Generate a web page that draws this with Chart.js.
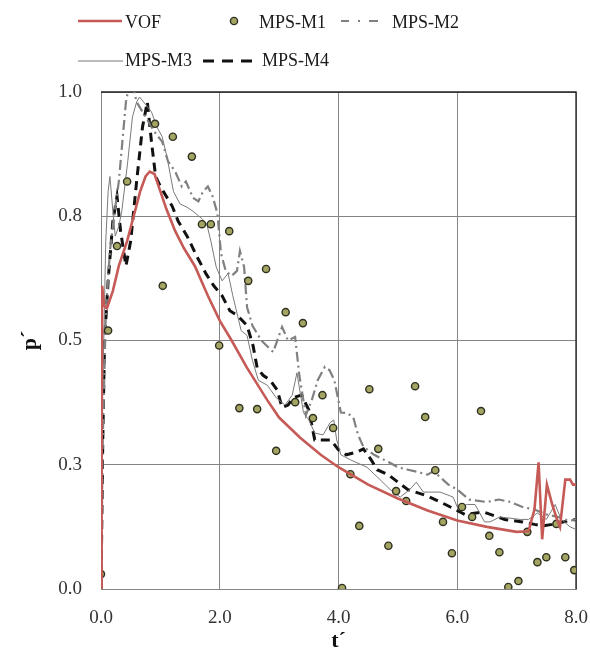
<!DOCTYPE html>
<html><head><meta charset="utf-8">
<script src="https://cdn.jsdelivr.net/npm/chart.js@4.4.1/dist/chart.umd.min.js"></script>
<style>html,body{margin:0;padding:0;background:#fff;}#wrap{width:590px;height:655px;position:relative;}</style>
</head><body><div id="wrap"><canvas id="c" width="590" height="655"></canvas></div>
<script>
// ---- data ----
const xTickValues = [0, 2, 4, 6, 8];
const xTickLabels = ['0.0', '2.0', '4.0', '6.0', '8.0'];
const yTickValues = [0, 0.25, 0.5, 0.75, 1.0];
const yTickLabels = ['0.0', '0.3', '0.5', '0.8', '1.0'];

const vofT = [0,0.01,0.02,0.05,0.1,0.2,0.3,0.44,0.55,0.66,0.75,0.82,0.9,1.0,1.1,1.25,1.4,1.58,1.8,2.0,2.2,2.46,2.8,3.0,3.35,3.7,4.0,4.5,5.0,5.5,6.0,6.5,7.0,7.2,7.3,7.37,7.43,7.51,7.6,7.68,7.73,7.82,7.9,7.95,8.0];
const vofP = [0,0.35,0.61,0.57,0.565,0.6,0.65,0.70,0.75,0.80,0.83,0.84,0.835,0.80,0.765,0.72,0.685,0.65,0.59,0.54,0.50,0.445,0.38,0.345,0.305,0.27,0.245,0.21,0.182,0.158,0.138,0.125,0.115,0.116,0.16,0.255,0.10,0.21,0.17,0.14,0.125,0.22,0.22,0.21,0.21];

const m1T = [0.0,0.12,0.27,0.44,0.91,1.04,1.21,1.53,1.70,1.85,1.99,2.16,2.33,2.48,2.63,2.78,2.95,3.11,3.27,3.40,3.57,3.73,3.91,4.06,4.20,4.35,4.52,4.67,4.84,4.97,5.14,5.29,5.46,5.63,5.76,5.91,6.08,6.25,6.40,6.54,6.71,6.86,7.03,7.18,7.35,7.50,7.67,7.82,7.97];
const m1P = [0.03,0.52,0.69,0.82,0.936,0.61,0.91,0.87,0.734,0.734,0.49,0.72,0.364,0.62,0.362,0.644,0.278,0.557,0.376,0.535,0.344,0.39,0.324,0.002,0.231,0.127,0.402,0.282,0.087,0.197,0.177,0.408,0.346,0.239,0.135,0.072,0.165,0.145,0.358,0.107,0.074,0.004,0.016,0.115,0.054,0.064,0.131,0.064,0.038];

const m2T = [0,0.03,0.08,0.15,0.22,0.3,0.36,0.42,0.5,0.6,0.75,0.9,1.03,1.13,1.25,1.36,1.43,1.55,1.64,1.72,1.8,1.88,1.96,2.02,2.1,2.2,2.29,2.34,2.41,2.46,2.55,2.7,2.9,3.05,3.15,3.27,3.34,3.45,3.55,3.65,3.77,3.85,3.93,4.04,4.15,4.25,4.33,4.42,4.6,4.85,5.0,5.17,5.35,5.5,5.6,5.85,6.0,6.2,6.5,6.7,6.9,7.1,7.3,7.5,7.7,7.88,8.0];
const m2P = [0,0.3,0.55,0.68,0.75,0.82,0.9,0.98,1.03,0.98,0.95,0.92,0.90,0.86,0.84,0.81,0.82,0.787,0.78,0.80,0.81,0.79,0.756,0.676,0.64,0.63,0.64,0.68,0.648,0.567,0.53,0.50,0.477,0.527,0.50,0.507,0.43,0.35,0.38,0.42,0.447,0.44,0.42,0.355,0.354,0.345,0.31,0.286,0.27,0.255,0.245,0.24,0.235,0.23,0.237,0.21,0.20,0.18,0.175,0.18,0.175,0.165,0.16,0.15,0.145,0.137,0.14];

const m3T = [0,0.03,0.08,0.12,0.15,0.2,0.24,0.3,0.35,0.45,0.53,0.6,0.65,0.75,0.85,0.94,1.03,1.11,1.22,1.33,1.45,1.55,1.7,1.78,1.85,1.94,2.04,2.14,2.22,2.29,2.36,2.46,2.55,2.65,2.8,2.95,3.1,3.22,3.3,3.41,3.5,3.6,3.74,3.86,3.92,3.97,4.04,4.2,4.48,4.7,4.87,5.04,5.2,5.31,5.43,5.71,5.93,6.0,6.17,6.3,6.46,6.55,6.72,7.06,7.2,7.35,7.5,7.65,7.75,7.9,8.0];
const m3P = [0,0.4,0.7,0.8,0.83,0.76,0.71,0.73,0.76,0.86,0.95,0.98,0.99,0.975,0.96,0.93,0.91,0.87,0.80,0.775,0.768,0.76,0.745,0.735,0.70,0.648,0.62,0.635,0.59,0.555,0.52,0.51,0.46,0.42,0.41,0.385,0.37,0.39,0.435,0.355,0.34,0.314,0.31,0.335,0.34,0.30,0.27,0.26,0.245,0.22,0.20,0.185,0.20,0.215,0.195,0.195,0.185,0.165,0.17,0.17,0.135,0.135,0.145,0.14,0.14,0.153,0.14,0.17,0.14,0.125,0.12];

const m4T = [0,0.03,0.06,0.12,0.2,0.27,0.33,0.42,0.5,0.6,0.7,0.78,0.85,0.92,1.0,1.1,1.2,1.3,1.45,1.62,1.77,1.9,2.04,2.17,2.3,2.46,2.56,2.63,2.73,2.85,2.97,3.05,3.15,3.24,3.38,3.5,3.6,3.75,3.87,4.0,4.13,4.3,4.42,4.55,4.65,4.84,5.0,5.17,5.5,5.8,6.13,6.44,6.8,7.1,7.3,7.45,7.6,7.87,8.0];
const m4P = [0,0.3,0.5,0.62,0.74,0.79,0.72,0.65,0.70,0.82,0.93,0.98,0.90,0.83,0.81,0.79,0.77,0.74,0.71,0.668,0.634,0.61,0.59,0.56,0.55,0.53,0.49,0.445,0.43,0.42,0.40,0.365,0.37,0.385,0.39,0.36,0.30,0.30,0.30,0.28,0.27,0.275,0.282,0.26,0.24,0.23,0.215,0.20,0.187,0.17,0.15,0.155,0.14,0.135,0.13,0.127,0.13,0.137,0.14];

const seriesNames = ['VOF', 'MPS-M1', 'MPS-M2', 'MPS-M3', 'MPS-M4'];

function pts(t, p) { return t.map((x, i) => ({ x: x, y: p[i] })); }

const framePlugin = {
  id: 'frame',
  beforeDatasetsDraw(chart) {
    const { ctx, chartArea: a } = chart;
    ctx.save();
    ctx.strokeStyle = '#222';
    ctx.lineWidth = 1.3;
    ctx.beginPath();
    ctx.moveTo(a.left, a.top);
    ctx.lineTo(a.right, a.top);
    ctx.lineTo(a.right, a.bottom);
    ctx.stroke();
    ctx.restore();
  }
};

const legendPlugin = {
  id: 'customLegend',
  afterDraw(chart) {
    const ctx = chart.ctx;
    const ds = chart.data.datasets;
    const layout = [
      { line: [78, 122], y: 21, tx: 125, ty: 23 },
      { marker: 234, y: 21, tx: 259, ty: 23 },
      { line: [341, 378], y: 21, tx: 392, ty: 23 },
      { line: [78, 123], y: 61, tx: 125, ty: 61 },
      { line: [203, 260], y: 61, tx: 262, ty: 61 }
    ];
    ctx.save();
    layout.forEach((L, i) => {
      const d = ds[i];
      if (L.line) {
        ctx.save();
        ctx.strokeStyle = d.borderColor;
        ctx.lineWidth = d.borderWidth;
        ctx.setLineDash(d.legendDash || []);
        ctx.beginPath();
        ctx.moveTo(L.line[0], L.y);
        ctx.lineTo(L.line[1], L.y);
        ctx.stroke();
        ctx.restore();
      } else {
        ctx.beginPath();
        ctx.arc(L.marker, L.y, d.pointRadius, 0, Math.PI * 2);
        ctx.fillStyle = d.pointBackgroundColor;
        ctx.fill();
        ctx.lineWidth = d.pointBorderWidth;
        ctx.strokeStyle = d.pointBorderColor;
        ctx.stroke();
      }
      ctx.fillStyle = '#1a1a1a';
      ctx.font = '18px "Liberation Serif", serif';
      ctx.textBaseline = 'middle';
      ctx.textAlign = 'left';
      ctx.fillText(d.label, L.tx, L.ty);
    });
    ctx.restore();
  }
};

new Chart(document.getElementById('c'), {
  type: 'line',
  data: {
    datasets: [
      { label: seriesNames[0], data: pts(vofT, vofP), borderColor: '#c55a57', borderWidth: 2.6, pointRadius: 0, legendDash: [] },
      { label: seriesNames[1], data: pts(m1T, m1P), showLine: false, pointRadius: 3.6, pointBackgroundColor: '#a4a562', pointBorderColor: '#2f3020', pointBorderWidth: 1.4, borderColor: '#2f3020' },
      { label: seriesNames[2], data: pts(m2T, m2P), borderColor: '#808080', borderWidth: 2.2, borderDash: [10, 4, 2, 4], pointRadius: 0, legendDash: [8, 9, 2, 9, 8, 0] },
      { label: seriesNames[3], data: pts(m3T, m3P), borderColor: '#7a7a7a', borderWidth: 1, pointRadius: 0, legendDash: [] },
      { label: seriesNames[4], data: pts(m4T, m4P), borderColor: '#111', borderWidth: 3, borderDash: [9, 6], pointRadius: 0, legendDash: [11, 8] }
    ]
  },
  options: {
    responsive: false,
    animation: false,
    devicePixelRatio: 1,
    layout: { padding: { left: 0, right: 14, top: 92, bottom: 0 } },
    plugins: { legend: { display: false }, tooltip: { enabled: false } },
    elements: { line: { tension: 0 }, point: { radius: 0 } },
    scales: {
      x: {
        type: 'linear', min: 0, max: 8,
        afterBuildTicks: s => { s.ticks = xTickValues.map(v => ({ value: v })); },
        afterFit: s => { s.height = 66; },
        ticks: { callback: (v, i) => xTickLabels[i], font: { family: 'Liberation Serif', size: 19 }, color: '#333', padding: 0, maxRotation: 0, autoSkip: false },
        grid: { color: '#858585', drawTicks: true, tickLength: 18, tickColor: 'rgba(0,0,0,0)', lineWidth: 1 },
        border: { color: '#858585' },
        title: { display: true, text: 't´', font: { family: 'Liberation Serif', size: 22, weight: 'bold' }, color: '#111', padding: { top: 0, bottom: 0 } }
      },
      y: {
        type: 'linear', min: 0, max: 1,
        afterBuildTicks: s => { s.ticks = yTickValues.map(v => ({ value: v })); },
        afterFit: s => { s.width = 101; },
        ticks: { callback: (v, i) => yTickLabels[i], font: { family: 'Liberation Serif', size: 19 }, color: '#333', padding: 0, autoSkip: false },
        grid: { color: '#858585', drawTicks: true, tickLength: 19, tickColor: 'rgba(0,0,0,0)', lineWidth: 1 },
        border: { color: '#858585' },
        title: { display: true, text: 'p´', font: { family: 'Liberation Serif', size: 22, weight: 'bold' }, color: '#111', padding: { top: 17, bottom: 0 } }
      }
    }
  },
  plugins: [framePlugin, legendPlugin]
});
</script></body></html>
